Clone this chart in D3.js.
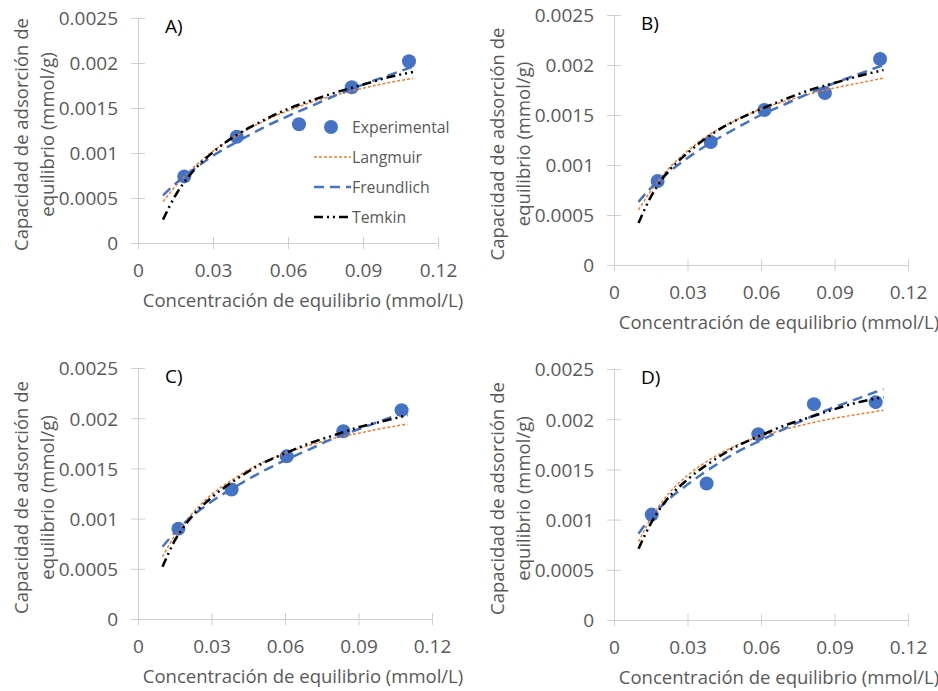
<!DOCTYPE html>
<html>
<head>
<meta charset="utf-8">
<script src="https://cdn.jsdelivr.net/npm/d3@7"></script>
<style>
  html, body { margin: 0; padding: 0; background: #fff; }
  svg { display: block; font-family: "Open Sans", sans-serif; }
</style>
</head>
<body>
<svg id="chart" width="938" height="691"></svg>
<script>
// ------------------------
// Data
// ------------------------
const xTicks = [ 0, 0.03, 0.06, 0.09, 0.12 ];
const xTickLabels = [ '0', '0.03', '0.06', '0.09', '0.12' ];
const yTicks = [ 0, 0.0005, 0.001, 0.0015, 0.002, 0.0025 ];
const yTickLabels = [ '0', '0.0005', '0.001', '0.0015', '0.002', '0.0025' ];

const panelNames = [ 'A)', 'B)', 'C)', 'D)' ];
const seriesNames = [ 'Experimental', 'Langmuir', 'Freundlich', 'Temkin' ];

// concentrations where the fitted curves were read
const fitC = [ 0.01, 0.015, 0.02, 0.03, 0.04, 0.05, 0.06, 0.07, 0.08, 0.09, 0.10, 0.11 ];

// A)
const expC_A = [ 0.0185, 0.0395, 0.0644, 0.0855, 0.1084 ];
const expQ_A = [ 0.00074, 0.00118, 0.00132, 0.00173, 0.00202 ];
const lang_A = [ 0.00046, 0.00063, 0.00078, 0.00102, 0.00120, 0.00135, 0.00147, 0.00157, 0.00165, 0.00172, 0.00178, 0.00183 ];
const freu_A = [ 0.00053, 0.00066, 0.00077, 0.00097, 0.00113, 0.00128, 0.00141, 0.00153, 0.00165, 0.00176, 0.00186, 0.00196 ];
const temk_A = [ 0.00026, 0.00053, 0.00073, 0.00101, 0.00121, 0.00136, 0.00149, 0.00159, 0.00168, 0.00176, 0.00184, 0.00190 ];

// B)
const expC_B = [ 0.0178, 0.0395, 0.0614, 0.0861, 0.1086 ];
const expQ_B = [ 0.00084, 0.00123, 0.00155, 0.00172, 0.00206 ];
const lang_B = [ 0.00055, 0.00074, 0.00090, 0.00114, 0.00132, 0.00145, 0.00156, 0.00164, 0.00171, 0.00177, 0.00182, 0.00187 ];
const freu_B = [ 0.00063, 0.00077, 0.00088, 0.00107, 0.00123, 0.00137, 0.00150, 0.00161, 0.00172, 0.00182, 0.00191, 0.00200 ];
const temk_B = [ 0.00042, 0.00068, 0.00087, 0.00112, 0.00131, 0.00145, 0.00156, 0.00166, 0.00175, 0.00182, 0.00189, 0.00195 ];

// C)
const expC_C = [ 0.0165, 0.0382, 0.0607, 0.0838, 0.1076 ];
const expQ_C = [ 0.00090, 0.00129, 0.00162, 0.00187, 0.00208 ];
const lang_C = [ 0.00062, 0.00083, 0.00099, 0.00124, 0.00141, 0.00155, 0.00165, 0.00173, 0.00180, 0.00185, 0.00190, 0.00194 ];
const freu_C = [ 0.00072, 0.00086, 0.00098, 0.00117, 0.00132, 0.00146, 0.00158, 0.00169, 0.00180, 0.00189, 0.00198, 0.00207 ];
const temk_C = [ 0.00052, 0.00078, 0.00096, 0.00121, 0.00139, 0.00154, 0.00165, 0.00175, 0.00183, 0.00191, 0.00197, 0.00203 ];

// D)
const expC_D = [ 0.0154, 0.0378, 0.0589, 0.0816, 0.1068 ];
const expQ_D = [ 0.00105, 0.00136, 0.00185, 0.00215, 0.00217 ];
const lang_D = [ 0.00078, 0.00101, 0.00119, 0.00144, 0.00161, 0.00174, 0.00183, 0.00190, 0.00196, 0.00201, 0.00205, 0.00209 ];
const freu_D = [ 0.00086, 0.00102, 0.00115, 0.00135, 0.00152, 0.00167, 0.00179, 0.00191, 0.00202, 0.00212, 0.00221, 0.00230 ];
const temk_D = [ 0.00071, 0.00096, 0.00115, 0.00140, 0.00158, 0.00173, 0.00184, 0.00194, 0.00202, 0.00210, 0.00217, 0.00222 ];

const panelData = [
	{ expC: expC_A, expQ: expQ_A, fits: [ lang_A, freu_A, temk_A ] },
	{ expC: expC_B, expQ: expQ_B, fits: [ lang_B, freu_B, temk_B ] },
	{ expC: expC_C, expQ: expQ_C, fits: [ lang_C, freu_C, temk_C ] },
	{ expC: expC_D, expQ: expQ_D, fits: [ lang_D, freu_D, temk_D ] },
];

// ------------------------
// Layout / styles
// ------------------------
const layout = [
	{ left: 138, right: 438, top: 18, bottom: 243, legend: true },
	{ left: 614, right: 908, top: 15, bottom: 265 },
	{ left: 138, right: 432, top: 368, bottom: 619 },
	{ left: 614, right: 908, top: 369, bottom: 620 },
];

const textColor = '#595959';
const axisColor = '#d0d0d0';
const fitStyles = [
	{ color: '#ed7d31', width: 1.5, dash: '3,2' },
	{ color: '#4472c4', width: 2.5, dash: '10,6' },
	{ color: '#000000', width: 2.5, dash: '9,4,2,4,2,4' },
];
const pointColor = '#4472c4';

const svg = d3.select( '#chart' );
svg.append( 'rect' ).attr( 'width', 938 ).attr( 'height', 691 ).attr( 'fill', '#fff' );

layout.forEach( ( box, i ) => renderPanel( box, panelData[ i ], panelNames[ i ] ) );

function renderPanel( box, data, name ) {
	const x = d3.scaleLinear().domain( [ 0, 0.12 ] ).range( [ box.left, box.right ] );
	const y = d3.scaleLinear().domain( [ 0, 0.0025 ] ).range( [ box.bottom, box.top ] );
	const g = svg.append( 'g' );

	// x axis
	const xAxis = d3.axisBottom( x )
		.tickValues( xTicks )
		.tickFormat( ( d, i ) => xTickLabels[ i ] )
		.tickSizeOuter( 0 );
	const xg = g.append( 'g' )
		.attr( 'transform', `translate(0, ${ box.bottom })` )
		.call( xAxis );
	xg.select( 'path' ).attr( 'stroke', axisColor );
	xg.selectAll( 'line' ).attr( 'stroke', axisColor ).attr( 'y1', -6 ).attr( 'y2', 6 );
	xg.selectAll( 'text' )
		.attr( 'y', 34 ).attr( 'dy', null )
		.attr( 'fill', textColor )
		.style( 'font-size', '19px' )
		.style( 'font-family', '"Open Sans", sans-serif' );

	// y axis
	const yAxis = d3.axisLeft( y )
		.tickValues( yTicks )
		.tickFormat( ( d, i ) => yTickLabels[ i ] )
		.tickSizeOuter( 0 );
	const yg = g.append( 'g' )
		.attr( 'transform', `translate(${ box.left }, 0)` )
		.call( yAxis );
	yg.select( 'path' ).attr( 'stroke', axisColor );
	yg.selectAll( 'line' ).attr( 'stroke', axisColor ).attr( 'x1', -7 ).attr( 'x2', 7 );
	yg.selectAll( 'text' )
		.attr( 'x', -20 ).attr( 'dy', '0.36em' )
		.attr( 'fill', textColor )
		.style( 'font-size', '19px' )
		.style( 'font-family', '"Open Sans", sans-serif' );

	// axis titles
	g.append( 'text' )
		.attr( 'x', box.left + 165 )
		.attr( 'y', box.bottom + 64 )
		.attr( 'text-anchor', 'middle' )
		.attr( 'fill', textColor )
		.style( 'font-size', '18.5px' )
		.text( 'Concentración de equilibrio (mmol/L)' );

	const midY = ( box.top + box.bottom ) / 2 + 4;
	const yt = g.append( 'text' )
		.attr( 'transform', `translate(${ box.left - 110 }, ${ midY }) rotate(-90)` )
		.attr( 'text-anchor', 'middle' )
		.attr( 'fill', textColor )
		.style( 'font-size', '18.5px' );
	yt.append( 'tspan' ).attr( 'x', 0 ).attr( 'y', 0 ).text( 'Capacidad de adsorción de' );
	yt.append( 'tspan' ).attr( 'x', 0 ).attr( 'y', 26 ).text( 'equilibrio (mmol/g)' );

	// panel label
	g.append( 'text' )
		.attr( 'x', box.left + 27 )
		.attr( 'y', box.top + 15 )
		.attr( 'fill', '#000' )
		.style( 'font-size', '19px' )
		.text( name );

	// experimental points
	g.append( 'g' )
		.selectAll( 'circle' )
		.data( data.expC.map( ( c, i ) => [ c, data.expQ[ i ] ] ) )
		.join( 'circle' )
		.attr( 'cx', d => x( d[ 0 ] ) )
		.attr( 'cy', d => y( d[ 1 ] ) )
		.attr( 'r', 7 )
		.attr( 'fill', pointColor );

	// fitted curves
	const line = d3.line()
		.x( d => x( d[ 0 ] ) )
		.y( d => y( d[ 1 ] ) )
		.curve( d3.curveMonotoneX );

	data.fits.forEach( ( vals, k ) => {
		g.append( 'path' )
			.datum( fitC.map( ( c, i ) => [ c, vals[ i ] ] ) )
			.attr( 'd', line )
			.attr( 'fill', 'none' )
			.attr( 'stroke', fitStyles[ k ].color )
			.attr( 'stroke-width', fitStyles[ k ].width )
			.attr( 'stroke-dasharray', fitStyles[ k ].dash );
	} );

	if ( box.legend ) {
		renderLegend( g );
	}
}

function renderLegend( g ) {
	const lx = 314;
	const rows = [ 127, 157, 187, 217 ];
	const lg = g.append( 'g' );

	lg.append( 'circle' )
		.attr( 'cx', 331 ).attr( 'cy', rows[ 0 ] ).attr( 'r', 7 )
		.attr( 'fill', pointColor );

	fitStyles.forEach( ( s, k ) => {
		lg.append( 'line' )
			.attr( 'x1', lx ).attr( 'x2', lx + 37 )
			.attr( 'y1', rows[ k + 1 ] ).attr( 'y2', rows[ k + 1 ] )
			.attr( 'stroke', s.color )
			.attr( 'stroke-width', s.width )
			.attr( 'stroke-dasharray', s.dash );
	} );

	lg.selectAll( 'text' )
		.data( seriesNames )
		.join( 'text' )
		.attr( 'x', 352 )
		.attr( 'y', ( d, i ) => rows[ i ] + 6 )
		.attr( 'fill', textColor )
		.style( 'font-size', '15.8px' )
		.text( d => d );
}
</script>
</body>
</html>
